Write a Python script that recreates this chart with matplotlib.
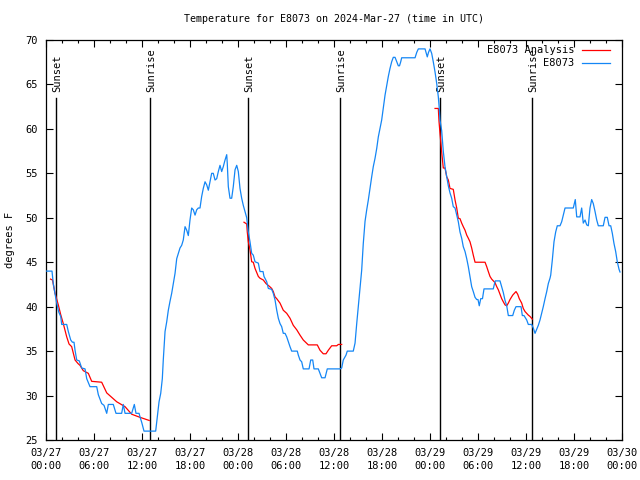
import matplotlib
matplotlib.use("Agg")
import matplotlib.pyplot as plt
from matplotlib.ticker import MultipleLocator, FixedLocator

# ---------------- data (hours since 03/27 00:00 UTC) ----------------
obs_t = [0, 0.75, 0.91, 1.04, 1.34, 1.59, 1.84, 1.96, 2.59, 2.79, 3.09, 3.3, 3.5, 3.63, 3.84,
         4.16, 4.46, 4.88, 5.09, 5.5, 6.34, 6.54, 6.96, 7.25, 7.59, 7.79, 8.41, 8.75, 9.46,
         9.66, 9.88, 10.71, 11.04, 11.25, 11.63, 11.75, 11.96, 12.25, 13.71, 13.91, 14.13,
         14.34, 14.54, 14.66, 14.88, 15.09, 15.29, 15.5, 15.71, 15.91, 16.13, 16.34, 16.54,
         16.75, 16.96, 17.16, 17.38, 17.59, 17.79, 18.0, 18.21, 18.41, 18.63, 18.84, 19.04,
         19.25, 19.46, 19.66, 19.88, 20.09, 20.29, 20.5, 20.71, 20.91, 21.13, 21.34, 21.54,
         21.75, 21.96, 22.16, 22.38, 22.59, 22.66, 22.79, 23.0, 23.21, 23.41, 23.63, 23.84,
         24.04, 24.25, 24.46, 24.66, 24.88, 25.09, 25.29, 25.5, 25.71, 25.91, 26.13, 26.54,
         26.75, 27.13, 27.25, 27.59, 27.79, 28.21, 28.41, 28.63, 28.84, 29.04, 29.25, 29.46,
         29.66, 29.88, 30.09, 30.29, 30.5, 30.71, 31.41, 31.54, 31.75, 31.96, 32.16, 32.88,
         33.09, 33.34, 33.5, 34.04, 34.25, 34.46, 34.88, 35.16, 36.75, 36.96, 37.16, 37.5,
         37.66, 38.41, 38.63, 38.84, 39.04, 39.25, 39.46, 39.66, 39.88, 40.09, 40.29, 40.5,
         40.71, 40.91, 41.13, 41.34, 41.54, 41.75, 41.96, 42.16, 42.38, 42.59, 42.79, 43.0,
         43.21, 43.41, 43.63, 43.84, 44.04, 44.19, 44.34, 44.46, 46.13, 46.34, 46.54, 47.38,
         47.5, 47.66, 47.81, 48.0, 48.21, 48.41, 48.63, 48.84, 49.04, 49.16, 49.25, 49.46,
         49.66, 49.88, 50.09, 50.29, 50.5, 50.71, 50.91, 51.13, 51.34, 51.54, 51.75, 51.96,
         52.16, 52.38, 52.59, 52.79, 53.0, 53.21, 53.41, 53.63, 53.84, 54.0, 54.16, 54.34,
         54.56, 54.75, 55.91, 56.04, 56.16, 56.75, 56.96, 57.16, 57.38, 57.59, 57.79, 58.34,
         58.54, 58.75, 59.38, 59.54, 59.75, 60.09, 60.29, 60.71, 60.91, 61.13, 61.34, 61.54,
         61.75, 61.96, 62.16, 62.38, 62.59, 62.79, 63.0, 63.09, 63.29, 63.5, 63.71, 63.91,
         64.25, 64.46, 64.66, 64.88, 65.91, 66.04, 66.16, 66.34, 66.75, 66.96, 67.16, 67.38,
         67.59, 67.79, 68.0, 68.21, 68.41, 68.63, 68.84, 69.04, 69.66, 69.88, 70.16, 70.38,
         70.59, 70.79, 71.0, 71.21, 71.41, 71.63, 71.75]
obs_v = [44, 44, 42.6, 41.9, 40.4, 39.4, 38.9, 38, 38, 37.2, 36.25, 36, 36, 35.1, 34,
         33.9, 33.1, 33, 31.9, 31, 31, 30.1, 29.1, 28.9, 28, 29, 29, 28, 28,
         29, 28, 28, 29, 28, 28, 27.6, 27, 26, 26, 27.6, 29.3,
         30.25, 31.9, 34, 37.2, 38.3, 39.6, 40.6, 41.5, 42.6, 43.75, 45.4, 46,
         46.6, 46.9, 47.5, 49, 48.6, 48, 49.75, 51.1, 50.9, 50.3, 50.9, 51.1,
         51.1, 52.4, 53.3, 54.05, 53.7, 53.1, 54.05, 55, 55, 54.25, 54.4, 55.2,
         55.9, 55.2, 55.75, 56.5, 57.1, 56.1, 53.5, 52.2, 52.2, 53.5, 55.4, 55.9,
         55.2, 53.3, 52.2, 51.4, 50.7, 50, 48.4, 47.3, 46, 45.8, 45.05, 44.9,
         43.95, 43.95, 43.4, 42.8, 42.05, 41.95, 41.5, 40.75, 39.6, 38.7, 38.1, 37.75,
         37, 37, 36.6, 36.05, 35.5, 35, 35, 34.55, 34, 33.8, 33, 33,
         34, 34, 33, 33, 32.5, 32, 32, 33, 33, 33.1, 34, 34.55,
         35, 35, 35.9, 38.1, 40, 41.9, 44.1, 47.1, 49.6, 50.9, 52, 53.3,
         54.6, 55.75, 56.7, 57.8, 59.1, 60.07, 61, 62.3, 63.8, 64.9, 65.9, 66.8,
         67.55, 68.05, 68.05, 67.55, 67.1, 67.1, 67.55, 68, 68, 68.6, 69, 69,
         68.6, 68.1, 68.6, 69, 68.5, 67.55, 66.4, 65.1, 63.6, 62.3, 61, 59.8,
         57.5, 55.7, 54.6, 53.6, 52.8, 52.2, 51.25, 51.1, 50.3, 49.55, 48.4, 47.7,
         46.75, 46.2, 45.4, 44.5, 43.4, 42.25, 41.7, 41.05, 40.8, 40.8, 40.1, 40.9,
         40.9, 42, 42, 42.5, 42.9, 42.9, 42.25, 41.6, 40.7, 40.1, 39, 39,
         39.6, 40, 40, 39, 39, 38.5, 38, 38, 37.6, 37, 37.45, 37.9,
         38.5, 39.25, 40, 40.9, 41.7, 42.6, 43.2, 43.55, 45.25, 47.3, 48.4, 49.1,
         49.1, 49.55, 50.3, 51.1, 51.1, 51.6, 52.05, 50.1, 50.1, 51.1, 49.4, 49.75,
         49.2, 49.1, 51.1, 52.05, 51.6, 50.7, 49.75, 49.1, 49.1, 50.05, 50.05, 49.1,
         49.1, 48.25, 47.1, 46.2, 45.05, 44.2, 43.9]

ana1_t = [0.56, 0.81, 1.13, 1.54, 1.84, 2.16, 2.59, 2.88, 3.21, 3.63, 4.0, 4.25, 4.66, 5.29,
          5.71, 6.96, 7.59, 8.84, 9.88, 10.71, 11.75, 12.9]
ana1_v = [43.1, 43, 41.5, 40.2, 39.1, 38.1, 36.6, 35.8, 35.5, 34, 33.6, 33.4, 32.8, 32.5,
          31.6, 31.5, 30.3, 29.3, 28.75, 27.9, 27.55, 27.2]
ana2_t = [24.75, 25.09, 25.16, 25.29, 25.5, 25.71, 25.91, 26.13, 26.54, 26.75, 27.16, 27.5,
          27.91, 28.21, 28.41, 28.63, 28.84, 29.25, 29.66, 30.09, 30.5, 30.91, 31.34, 31.75,
          32.16, 32.79, 33.91, 34.25, 34.66, 35.0, 35.29, 35.71, 36.34, 36.54, 36.96]
ana2_v = [49.5, 49.3, 48.4, 47.3, 46.4, 45.05, 45, 44.3, 43.4, 43.2, 43, 42.6,
          42.3, 42.05, 41.7, 41.1, 40.9, 40.4, 39.6, 39.25, 38.7, 37.9, 37.4, 36.8,
          36.25, 35.7, 35.7, 35.1, 34.7, 34.7, 35.1, 35.6, 35.6, 35.75, 35.75]
ana3_t = [48.63, 49.04, 49.13, 49.25, 49.46, 49.66, 49.88, 50.09, 50.29, 50.5, 50.91, 51.13,
          51.34, 51.54, 51.75, 51.96, 52.16, 52.38, 52.59, 52.79, 53.0, 53.21, 53.41, 53.63,
          54.88, 55.09, 55.29, 55.5, 55.71, 56.13, 56.34, 56.54, 56.75, 56.96, 57.16, 57.38,
          57.59, 57.79, 58.0, 58.34, 58.75, 58.96, 59.16, 59.46, 59.66, 59.88, 60.29, 60.5,
          60.79]
ana3_v = [62.3, 62.3, 60.8, 59.5, 57.4, 55.6, 55.6, 54.6, 54.25, 53.3, 53.2, 52,
          51.1, 49.95, 49.9, 49.4, 49, 48.6, 48.05, 47.7, 47.3, 46.6, 45.8, 45,
          45, 44.5, 43.95, 43.4, 43.1, 42.7, 42.25, 41.9, 41.4, 40.9, 40.55, 40.2,
          40.1, 40.4, 40.8, 41.3, 41.7, 41.4, 40.9, 40.4, 39.8, 39.45, 39.05, 38.9,
          38.6]

sun_t = [1.25, 13.0, 25.25, 36.75, 49.25, 60.75]
sun_lbl = ["Sunset", "Sunrise", "Sunset", "Sunrise", "Sunset", "Sunrise"]

xtick_lbls = ["03/27\n00:00", "03/27\n06:00", "03/27\n12:00", "03/27\n18:00",
              "03/28\n00:00", "03/28\n06:00", "03/28\n12:00", "03/28\n18:00",
              "03/29\n00:00", "03/29\n06:00", "03/29\n12:00", "03/29\n18:00",
              "03/30\n00:00"]

# ---------------- plot ----------------
FONT = "DejaVu Sans Mono"
plt.rcParams["font.family"] = FONT
plt.rcParams["font.size"] = 7

fig = plt.figure(figsize=(6.4, 4.8), dpi=100)
ax = fig.add_axes([46 / 640, 40 / 480, 576 / 640, 400 / 480])

RED = "#ff0000"
BLUE = "#1486f5"

for t, lbl in zip(sun_t, sun_lbl):
    ax.plot([t, t], [25, 63.5], color="black", lw=1.0, zorder=1)
    ax.text(t + 0.1, 64.2, lbl, rotation=90, ha="center", va="bottom", fontsize=7.5)

ax.plot(ana1_t, ana1_v, color=RED, lw=0.9, zorder=2)
ax.plot(ana2_t, ana2_v, color=RED, lw=0.9, zorder=2)
ax.plot(ana3_t, ana3_v, color=RED, lw=0.9, zorder=2)
ax.plot(obs_t, obs_v, color=BLUE, lw=0.9, zorder=3)

ax.set_xlim(0, 72)
ax.set_ylim(25, 70)
ax.xaxis.set_major_locator(FixedLocator([6 * i for i in range(13)]))
ax.xaxis.set_minor_locator(MultipleLocator(2))
ax.set_xticklabels(xtick_lbls, linespacing=1.35)
ax.yaxis.set_major_locator(MultipleLocator(5))
ax.tick_params(which="both", direction="in", top=True, right=True, labelsize=7.5)
ax.tick_params(which="major", length=5, width=0.8, pad=6)
ax.tick_params(which="minor", length=2.5, width=0.8)
ax.tick_params(axis="x", which="major", pad=6)
for s in ax.spines.values():
    s.set_linewidth(0.9)

ax.set_ylabel("degrees F", fontsize=7.5, labelpad=7)
fig.text(334 / 640, 1 - 19 / 480, "Temperature for E8073 on 2024-Mar-27 (time in UTC)",
         ha="center", va="center", fontsize=7.2)

# legend (gnuplot style: right-aligned text, sample after)
ax.text(0.9167, 0.975, "E8073 Analysis", transform=ax.transAxes, ha="right", va="center", fontsize=7.5)
ax.plot([0.930, 0.979], [0.975, 0.975], transform=ax.transAxes, color=RED, lw=0.9, clip_on=False)
ax.text(0.9167, 0.943, "E8073", transform=ax.transAxes, ha="right", va="center", fontsize=7.5)
ax.plot([0.930, 0.979], [0.943, 0.943], transform=ax.transAxes, color=BLUE, lw=0.9, clip_on=False)

fig.savefig("out.png", dpi=100)
